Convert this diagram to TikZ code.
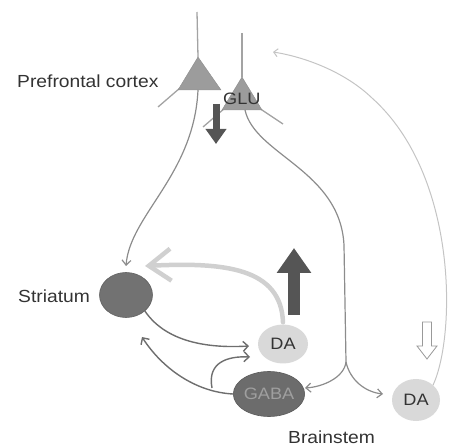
\documentclass[tikz,border=0pt]{standalone}
\usepackage{fontspec}
\setmainfont{Liberation Sans}
\newfontfamily\lblfont[FakeStretch=1.1]{Liberation Sans}
\usetikzlibrary{arrows.meta,shapes.geometric}
\definecolor{axoncol}{HTML}{8C8C8C}
\definecolor{conncol}{HTML}{6E6E6E}
\definecolor{txtcol}{HTML}{333333}
\definecolor{neurfill}{HTML}{9C9C9C}
\definecolor{strfill}{HTML}{727272}
\definecolor{gabafill}{HTML}{6C6C6C}
\definecolor{dafill}{HTML}{D9D9D9}
\definecolor{lightarr}{HTML}{D0D0D0}
\definecolor{darkarr}{HTML}{555555}
\definecolor{thinlight}{HTML}{C4C4C4}
\tikzset{
  region/.style={font=\lblfont\fontsize{17.5}{20}\selectfont, text=txtcol, inner sep=0pt, anchor=base west},
  cell/.style={ellipse, inner sep=0pt, font=\lblfont\fontsize{16.5}{18}\selectfont},
  dacell/.style={cell, fill=dafill, text=txtcol},
  darkcell/.style={cell, fill=gabafill, draw=gabafill!85!black, line width=0.6pt},
  axon/.style={draw=axoncol, line width=1.2pt},
  dendrite/.style={draw=axoncol!80, line width=1.3pt},
  conn/.style={draw=conncol, line width=1.4pt, -{Straight Barb[length=5pt,width=10pt]}},
  thinarr/.style={draw=thinlight, line width=1pt, -{Straight Barb[length=4pt,width=8pt]}},
  neuron/.style={fill=neurfill, draw=neurfill!90!black, line width=0.4pt}
}
\begin{document}
\begin{tikzpicture}[x=1pt,y=-1pt]
\useasboundingbox (0,0) rectangle (450,446);

% ---- coordinates of the two pyramidal neurons
\coordinate (n1apex) at (198,57);
\coordinate (n1top) at (197,12);
\coordinate (n1bl) at (178,90);
\coordinate (n1br) at (221,90);
\coordinate (n1ax) at (198,90);
\coordinate (n2apex) at (242,77);
\coordinate (n2top) at (242,33);
\coordinate (n2bl) at (222,110);
\coordinate (n2br) at (262,110);
\coordinate (n2ax) at (245,110);
\coordinate (split) at (346,362);

% ---- dendrites
\draw[dendrite] (n1top) -- (n1apex);
\draw[dendrite] (180,88) -- (158,107);
\draw[dendrite] (n2top) -- (n2apex);
\draw[dendrite] (225,108) -- (203,127);
\draw[dendrite] (259,108) -- (283,124);

% ---- neuron bodies
\fill[neuron] (n1apex) -- (n1br) -- (n1bl) -- cycle;
\fill[neuron] (n2apex) -- (n2br) -- (n2bl) -- cycle;

% ---- cells
\node[ellipse, fill=strfill, draw=strfill!85!black, line width=0.6pt, minimum width=53pt, minimum height=45pt, inner sep=0pt] (str) at (126,295) {};
\node[dacell, minimum width=50pt, minimum height=39pt] (da1) at (283,344) {DA};
\node[darkcell, minimum width=52pt, minimum height=45pt, text=gray!75] (gaba) at (269,394) {GABA};
\node[dacell, minimum width=48pt, minimum height=42pt] (da2) at (416,400) {DA};

% ---- labels
\node[region] (pfc) at (17,88) {Prefrontal cortex};
\node[region] (strl) at (18,303) {Striatum};
\node[region] (bs) at (288,443) {Brainstem};
\node[font=\lblfont\fontsize{16.5}{18}\selectfont, text=txtcol, inner sep=0pt, anchor=base west] (glu) at (223,105) {GLU};

% ---- arrow end points near the cells
\coordinate (strtop) at (126,266);
\coordinate (strin) at (142,337);
\coordinate (strdaend) at (145,266);
\coordinate (daleft) at (249,346);
\coordinate (dalow) at (250,357);
\coordinate (gabaright) at (305,388);
\coordinate (da2left) at (383,394);
\coordinate (branch) at (212,388);

% ---- axons
\draw[axon, -{Straight Barb[length=5pt,width=9pt]}] (n1ax) .. controls (194,175) and (130,215) .. (strtop);
\draw[axon] (n2ax) .. controls (255,155) and (340,170) .. (344,245) -- (split);
\draw[axon, -{Straight Barb[length=5pt,width=9pt]}] (split) .. controls (344,378) and (322,387) .. (gabaright);
\draw[axon, -{Straight Barb[length=5pt,width=9pt]}] (split) .. controls (350,380) and (365,392) .. (da2left);

% ---- striatum / DA / GABA loop
\draw[conn] (str.south east) .. controls (168,345) and (215,348) .. (daleft);
\draw[conn] (gaba.west) .. controls (195,392) and (162,368) .. (strin);
\draw[conn] (branch) .. controls (207,362) and (228,356) .. (dalow);

% ---- DA back-projection to striatum (thick light)
\draw[draw=lightarr, line width=4.5pt, line cap=round, -{Straight Barb[length=22pt,width=32pt]}] ([yshift=2pt]da1.north) .. controls (281,268) and (225,262) .. (strdaend);

% ---- DA projection to prefrontal cortex (thin light)
\coordinate (pfcend) at (273,52);
\draw[thinarr] (da2.north east) .. controls (456,335) and (458,175) .. (372,98) .. controls (345,72) and (305,57) .. (pfcend);

% ---- big arrows
\draw[draw=darkarr, line width=7pt, -{Triangle[width=20pt,length=15pt]}] (216,104) -- (216,144);
\draw[draw=darkarr, line width=12pt, -{Triangle[width=33pt,length=25pt]}] (294,315) -- (294,248);
\draw[draw=gray!80, fill=white, line width=0.8pt] (422.5,322) -- (431.5,322) -- (431.5,346) -- (437,346) -- (427,359) -- (417,346) -- (422.5,346) -- cycle;
\end{tikzpicture}
\end{document}
